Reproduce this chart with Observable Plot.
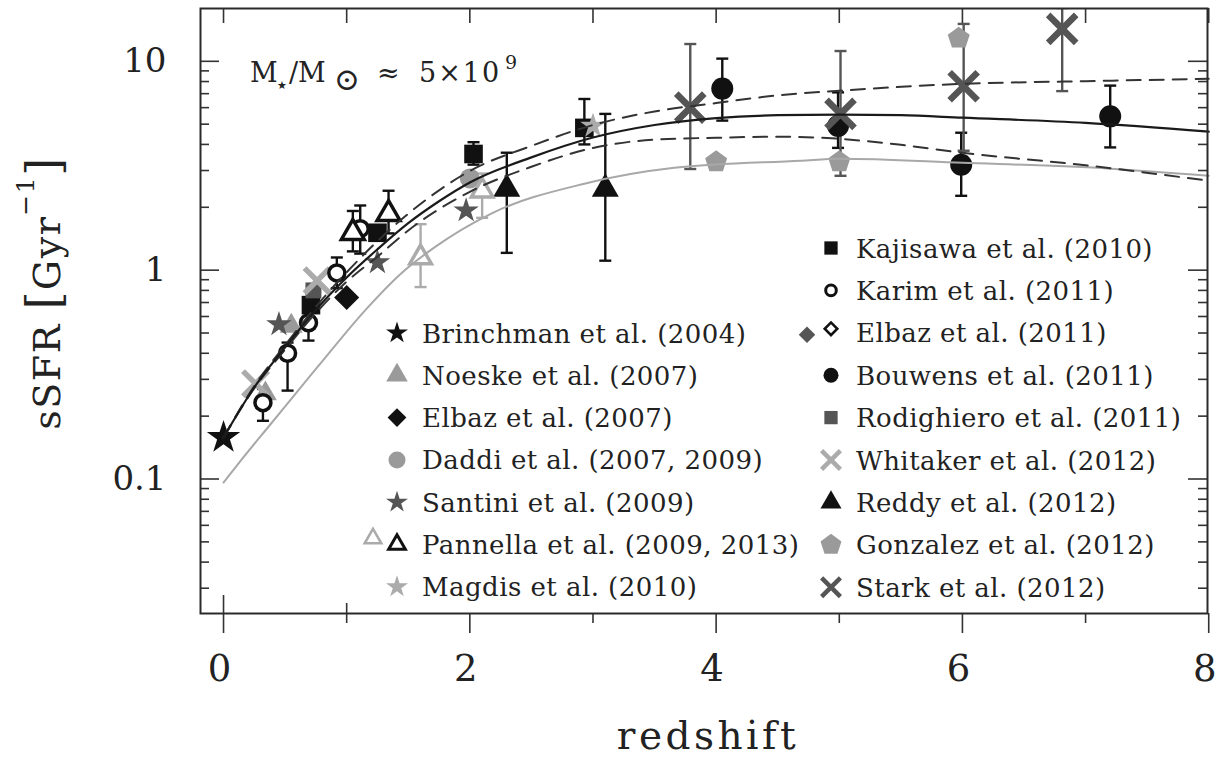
<!DOCTYPE html>
<html><head><meta charset="utf-8">
<script src="https://cdn.jsdelivr.net/npm/d3@7"></script>
<script src="https://cdn.jsdelivr.net/npm/@observablehq/plot@0.6"></script>
<style>
html,body{margin:0;padding:0;background:#fff;}
#chart{width:1222px;height:758px;}
</style></head><body><div id="chart"></div>
<script>
// ---------------- data ----------------
const xTickLabels = [0, 2, 4, 6, 8];
const xTicksMinor = [1, 3, 5, 7];
const yTickLabels = [0.1, 1, 10];
const yTicksMinor = [0.03,0.04,0.05,0.06,0.07,0.08,0.09,0.2,0.3,0.4,0.5,0.6,0.7,0.8,0.9,2,3,4,5,6,7,8,9];

const brinchman   = [{z: 0.00, s: 0.158}];
const noeske      = [{z: 0.34, s: 0.256}, {z: 0.55, s: 0.54}];
const elbaz2007   = [{z: 1.00, s: 0.74}];
const daddi       = [{z: 2.00, s: 2.75}];
const santini     = [{z: 0.45, s: 0.55}, {z: 1.25, s: 1.09}, {z: 1.97, s: 1.93}];
const pannella09  = [{z: 1.60, s: 1.15, lo: 0.83, hi: 1.66}, {z: 2.10, s: 2.40, lo: 1.78, hi: 2.9}];
const pannella13  = [{z: 1.05, s: 1.51, lo: 1.23, hi: 1.92}, {z: 1.34, s: 1.86, lo: 1.50, hi: 2.4}];
const magdis      = [{z: 3.00, s: 4.9}];
const kajisawa    = [{z: 0.71, s: 0.68}, {z: 1.25, s: 1.51}, {z: 2.03, s: 3.6, lo: 3.2, hi: 4.1}, {z: 2.93, s: 4.8, lo: 4.0, hi: 6.6}];
const karim       = [{z: 0.32, s: 0.232, lo: 0.19, hi: 0.27}, {z: 0.52, s: 0.40, lo: 0.265, hi: 0.45},
                     {z: 0.69, s: 0.56, lo: 0.46, hi: 0.63}, {z: 0.92, s: 0.97, lo: 0.82, hi: 1.15},
                     {z: 1.11, s: 1.58, lo: 1.20, hi: 2.04}];
const bouwens     = [{z: 4.05, s: 7.4, lo: 5.2, hi: 10.3}, {z: 4.99, s: 4.9, lo: 3.85, hi: 7.1},
                     {z: 5.99, s: 3.2, lo: 2.27, hi: 4.55}, {z: 7.20, s: 5.45, lo: 3.87, hi: 7.65}];
const rodighiero  = [{z: 0.73, s: 0.80}];
const whitaker    = [{z: 0.26, s: 0.286}, {z: 0.76, s: 0.89}];
const reddy       = [{z: 2.30, s: 2.45, lo: 1.21, hi: 3.65}, {z: 3.10, s: 2.45, lo: 1.11, hi: 5.6}];
const gonzalez    = [{z: 4.00, s: 3.3}, {z: 5.00, s: 3.3}, {z: 5.97, s: 12.9}];
const stark       = [{z: 3.79, s: 6.0, lo: 3.05, hi: 12.1}, {z: 5.01, s: 5.6, lo: 2.83, hi: 11.2},
                     {z: 6.01, s: 7.6, lo: 3.73, hi: 15.1}, {z: 6.81, s: 14.3, lo: 7.2, hi: 18}];

// model curves
const modelSolid = [{z:0,s:0.158},{z:0.25,s:0.275},{z:0.5,s:0.427},{z:0.75,s:0.646},{z:1.0,s:0.923},{z:1.25,s:1.259},
  {z:1.5,s:1.679},{z:1.75,s:2.138},{z:2.0,s:2.63},{z:2.5,s:3.467},{z:3.0,s:4.315},{z:3.5,s:4.955},{z:4.0,s:5.346},
  {z:4.5,s:5.521},{z:5.0,s:5.559},{z:5.5,s:5.521},{z:6.0,s:5.37},{z:7.0,s:5.07},{z:8.0,s:4.603}];
const modelUpper = [{z:0,s:0.158},{z:0.25,s:0.279},{z:0.5,s:0.437},{z:0.75,s:0.668},{z:1.0,s:0.977},{z:1.5,s:1.862},
  {z:2.0,s:2.985},{z:2.5,s:3.936},{z:3.0,s:4.955},{z:3.5,s:5.754},{z:4.0,s:6.31},{z:4.5,s:6.871},{z:5.0,s:7.228},
  {z:6.0,s:7.798},{z:7.0,s:8.035},{z:8.0,s:8.241}];
const modelLower = [{z:0,s:0.158},{z:0.25,s:0.272},{z:0.5,s:0.417},{z:0.75,s:0.624},{z:1.0,s:0.881},{z:1.25,s:1.161},
  {z:1.5,s:1.549},{z:2.0,s:2.371},{z:2.5,s:3.126},{z:3.0,s:3.846},{z:3.5,s:4.217},{z:4.0,s:4.305},{z:4.5,s:4.355},
  {z:5.0,s:4.256},{z:5.5,s:3.981},{z:6.0,s:3.648},{z:7.0,s:3.177},{z:8.0,s:2.679}];
const modelGray = [{z:0,s:0.0962},{z:0.14,s:0.1225},{z:0.38,s:0.1824},{z:0.76,s:0.342},{z:1.17,s:0.662},{z:1.44,s:0.962},
  {z:1.71,s:1.282},{z:2.17,s:1.862},{z:2.93,s:2.594},{z:3.66,s:3.09},{z:4.69,s:3.342},{z:5.0,s:3.412},{z:6.0,s:3.266},
  {z:7.2,s:3.062},{z:8.0,s:2.831}];

const legendLeft = ["Brinchman et al. (2004)", "Noeske et al. (2007)", "Elbaz et al. (2007)", "Daddi et al. (2007, 2009)",
  "Santini et al. (2009)", "Pannella et al. (2009, 2013)", "Magdis et al. (2010)"];
const legendRight = ["Kajisawa et al. (2010)", "Karim et al. (2011)", "Elbaz et al. (2011)", "Bouwens et al. (2011)",
  "Rodighiero et al. (2011)", "Whitaker et al. (2012)", "Reddy et al. (2012)", "Gonzalez et al. (2012)", "Stark et al. (2012)"];

// ---------------- styling ----------------
const W = 1222, H = 758, mL = 200, mR = 15, mT = 8, mB = 145;
const fw = W - mL - mR, fh = H - mT - mB;
const BLACK = "#111", DARK = "#555", MID = "#9a9a9a", LIGHT = "#ababab";

const pentagon = { draw(ctx, size) {
  const r = Math.sqrt(size / Math.PI) * 1.1;
  for (let i = 0; i < 5; i++) {
    const a = -Math.PI / 2 + i * 2 * Math.PI / 5;
    const px = r * Math.cos(a), py = r * Math.sin(a);
    if (i) ctx.lineTo(px, py); else ctx.moveTo(px, py);
  }
  ctx.closePath();
}};
const capSym = { draw(ctx, size) { const w = Math.sqrt(size / Math.PI); ctx.moveTo(-w, 0); ctx.lineTo(w, 0); } };

const series = [
  {data: reddy,      symbol: "triangle", fill: BLACK, r: 10,  err: BLACK},
  {data: kajisawa,   symbol: "square",   fill: BLACK, r: 10.5, err: BLACK},
  {data: daddi,      symbol: "circle",   fill: MID,   r: 10},
  {data: magdis,     symbol: "star",     fill: LIGHT, r: 8},
  {data: noeske,     symbol: "triangle", fill: MID,   r: 8.5},
  {data: rodighiero, symbol: "square",   fill: DARK,  r: 9},
  {data: santini,    symbol: "star",     fill: DARK,  r: 8},
  {data: whitaker,   symbol: "times",    fill: "none", stroke: LIGHT, sw: 5.5, r: 11.5},
  {data: elbaz2007,  symbol: "square",   fill: BLACK, r: 10, rotate: 45},
  {data: pannella09, symbol: "triangle", fill: "white", stroke: LIGHT, sw: 3.5, r: 8, err: LIGHT},
  {data: karim,      symbol: "circle",   fill: "white", stroke: BLACK, sw: 3.5, r: 8, err: BLACK},
  {data: pannella13, symbol: "triangle", fill: "white", stroke: BLACK, sw: 3.5, r: 8.5, err: BLACK},
  {data: brinchman,  symbol: "star",     fill: BLACK, r: 10.5},
  {data: gonzalez,   symbol: pentagon,   fill: MID,   r: 10.5},
  {data: bouwens,    symbol: "circle",   fill: BLACK, r: 11, err: BLACK},
  {data: stark,      symbol: "times",    fill: "none", stroke: DARK, sw: 6.5, r: 12.8, err: DARK}
];

const marks = [];
// error bars
for (const s of series) {
  if (!s.err) continue;
  const e = s.data.filter(d => d.lo != null);
  const caps = e.flatMap(d => [{z: d.z, s: d.lo}, {z: d.z, s: d.hi}]);
  marks.push(Plot.ruleX(e, {x: "z", y1: "lo", y2: "hi", stroke: s.err, strokeWidth: 2.4, clip: true}));
  marks.push(Plot.dot(caps, {x: "z", y: "s", symbol: capSym, r: 6, fill: "none", stroke: s.err, strokeWidth: 2.4, clip: true}));
}
// markers
for (const s of series) {
  marks.push(Plot.dot(s.data, {x: "z", y: "s", symbol: s.symbol, r: s.r, fill: s.fill, stroke: s.stroke,
    strokeWidth: s.sw, rotate: s.rotate}));
}
// model curves on top
marks.push(Plot.line(modelGray,  {x: "z", y: "s", stroke: "#a8a8a8", strokeWidth: 2, curve: "monotone-x"}));
marks.push(Plot.line(modelUpper, {x: "z", y: "s", stroke: "#333", strokeWidth: 2, strokeDasharray: "14,9", curve: "monotone-x"}));
marks.push(Plot.line(modelLower, {x: "z", y: "s", stroke: "#333", strokeWidth: 2, strokeDasharray: "14,9", curve: "monotone-x"}));
marks.push(Plot.line(modelSolid, {x: "z", y: "s", stroke: "#1a1a1a", strokeWidth: 2.2, curve: "monotone-x"}));

// ticks
const allX = [...xTickLabels, ...xTicksMinor];
const tk = {stroke: "#333", strokeWidth: 1.6};
marks.push(
  Plot.ruleY(yTickLabels, {y: d => d, insetRight: fw - 19, ...tk}),
  Plot.ruleY(yTicksMinor, {y: d => d, insetRight: fw - 9, ...tk}),
  Plot.ruleY(yTickLabels, {y: d => d, insetLeft: fw - 19, ...tk}),
  Plot.ruleY(yTicksMinor, {y: d => d, insetLeft: fw - 9, ...tk}),
  Plot.ruleX(allX, {x: d => d, insetBottom: fh - 15, ...tk}),
  Plot.ruleX(xTickLabels, {x: d => d, insetTop: fh, insetBottom: -20, ...tk}),
  Plot.ruleX(xTicksMinor, {x: d => d, insetTop: fh, insetBottom: -10, ...tk}),
  Plot.ruleX(xTickLabels.filter(d => d === 0), {x: d => d, insetTop: fh - 18, ...tk}),
  Plot.ruleX(xTicksMinor.filter(d => d === 1), {x: d => d, insetTop: fh - 10, ...tk}),
  Plot.frame({stroke: "#2a2a2a", strokeWidth: 2}),
  Plot.text(xTickLabels, {x: d => d, text: d => String(d), frameAnchor: "bottom", dy: 56, dx: -4,
    fontSize: 37, lineAnchor: "middle", fill: "#222"}),
  Plot.text(yTickLabels, {y: d => d, text: d => String(d), frameAnchor: "left", dx: -34, textAnchor: "end",
    fontSize: 34, lineAnchor: "middle", fill: "#222"})
);

const plot = Plot.plot({
  width: W, height: H, marginLeft: mL, marginRight: mR, marginTop: mT, marginBottom: mB,
  x: {domain: [-0.187, 7.99], axis: null},
  y: {type: "log", domain: [0.0227, 17.9], axis: null},
  style: {fontFamily: "DejaVu Serif", background: "#fff", color: "#111"},
  marks
});
document.getElementById("chart").appendChild(plot);

// ---------------- texts & legend ----------------
const svg = d3.select(plot);
const FONT = "DejaVu Serif";

// x title
svg.append("text").attr("x", 708).attr("y", 749).attr("text-anchor", "middle")
  .attr("font-family", FONT).attr("font-size", 39).attr("letter-spacing", 3.5).attr("fill", "#222").text("redshift");

// y title
const yt = svg.append("text").attr("transform", "translate(60,293) rotate(-90)").attr("text-anchor", "middle")
  .attr("font-family", FONT).attr("font-size", 38).attr("letter-spacing", 1.5).attr("fill", "#222");
yt.append("tspan").text("sSFR ");
yt.append("tspan").attr("font-size", 46).text("[");
yt.append("tspan").text("Gyr");
yt.append("tspan").attr("font-size", 25).attr("dy", -26).text("\u22121");
yt.append("tspan").attr("font-size", 46).attr("dy", 26).text("]");

// annotation
const ann = svg.append("text").attr("y", 82).attr("font-family", FONT).attr("font-size", 27)
  .attr("text-anchor", "start").attr("fill", "#222");
ann.append("tspan").attr("x", 250).text("M");
ann.append("tspan").attr("x", 277).attr("dy", 7).attr("font-size", 11).text("\u2605");
ann.append("tspan").attr("x", 289).attr("dy", -7).text("/M");
ann.append("tspan").attr("x", 334).attr("dy", 8).attr("font-size", 31).text("\u2299");
ann.append("tspan").attr("x", 377).attr("dy", -8).text("\u2248");
ann.append("tspan").attr("x", 419).attr("letter-spacing", 2).text("5\u00d710");
ann.append("tspan").attr("x", 505).attr("dy", -13).attr("font-size", 19).text("9");

// legend
function symType(s) {
  if (typeof s !== "string") return s;
  return {star: d3.symbolStar, triangle: d3.symbolTriangle, circle: d3.symbolCircle,
          square: d3.symbolSquare, times: d3.symbolTimes}[s];
}
function drawSym(g, cx, cy, o) {
  g.append("path")
    .attr("d", d3.symbol(symType(o.symbol), Math.PI * o.r * o.r)())
    .attr("transform", `translate(${cx},${cy})` + (o.rotate ? ` rotate(${o.rotate})` : ""))
    .attr("fill", o.fill || "none").attr("stroke", o.stroke || "none").attr("stroke-width", o.sw || 0);
}
const lg = svg.append("g").attr("font-family", FONT).attr("font-size", 26).attr("fill", "#222")
  .attr("text-anchor", "start").attr("letter-spacing", 0.45);
const leftSyms = [
  [{symbol: "star", fill: BLACK, r: 6.9}],
  [{symbol: "triangle", fill: MID, r: 8}],
  [{symbol: "square", fill: BLACK, r: 7.5, rotate: 45}],
  [{symbol: "circle", fill: MID, r: 8.5}],
  [{symbol: "star", fill: DARK, r: 6.9}],
  [{symbol: "triangle", fill: "white", stroke: LIGHT, sw: 2.5, r: 6.2, dx: -24, dy: -6},
   {symbol: "triangle", fill: "white", stroke: BLACK, sw: 3, r: 6.2}],
  [{symbol: "star", fill: LIGHT, r: 6.9}]
];
const rightSyms = [
  [{symbol: "square", fill: BLACK, r: 7.5}],
  [{symbol: "circle", fill: "white", stroke: BLACK, sw: 3, r: 5.3}],
  [{symbol: "square", fill: DARK, r: 6.6, rotate: 45, dx: -24, dy: 2},
   {symbol: "square", fill: "white", stroke: BLACK, sw: 2.6, r: 5, rotate: 45, dy: -4}],
  [{symbol: "circle", fill: BLACK, r: 7.5}],
  [{symbol: "square", fill: DARK, r: 7.5}],
  [{symbol: "times", stroke: LIGHT, sw: 4.5, r: 8.6}],
  [{symbol: "triangle", fill: BLACK, r: 7.8}],
  [{symbol: pentagon, fill: MID, r: 10}],
  [{symbol: "times", stroke: DARK, sw: 4.5, r: 8.6}]
];
legendLeft.forEach((t, i) => {
  const cy = 333 + i * 42.3;
  leftSyms[i].forEach(o => drawSym(lg, 397 + (o.dx || 0), cy + (o.dy || 0), o));
  lg.append("text").attr("x", 422).attr("y", cy + 9.5).text(t);
});
legendRight.forEach((t, i) => {
  const cy = 248 + i * 42.4;
  rightSyms[i].forEach(o => drawSym(lg, 831 + (o.dx || 0), cy + (o.dy || 0), o));
  lg.append("text").attr("x", 856).attr("y", cy + 9.5).text(t);
});
</script>
</body></html>
